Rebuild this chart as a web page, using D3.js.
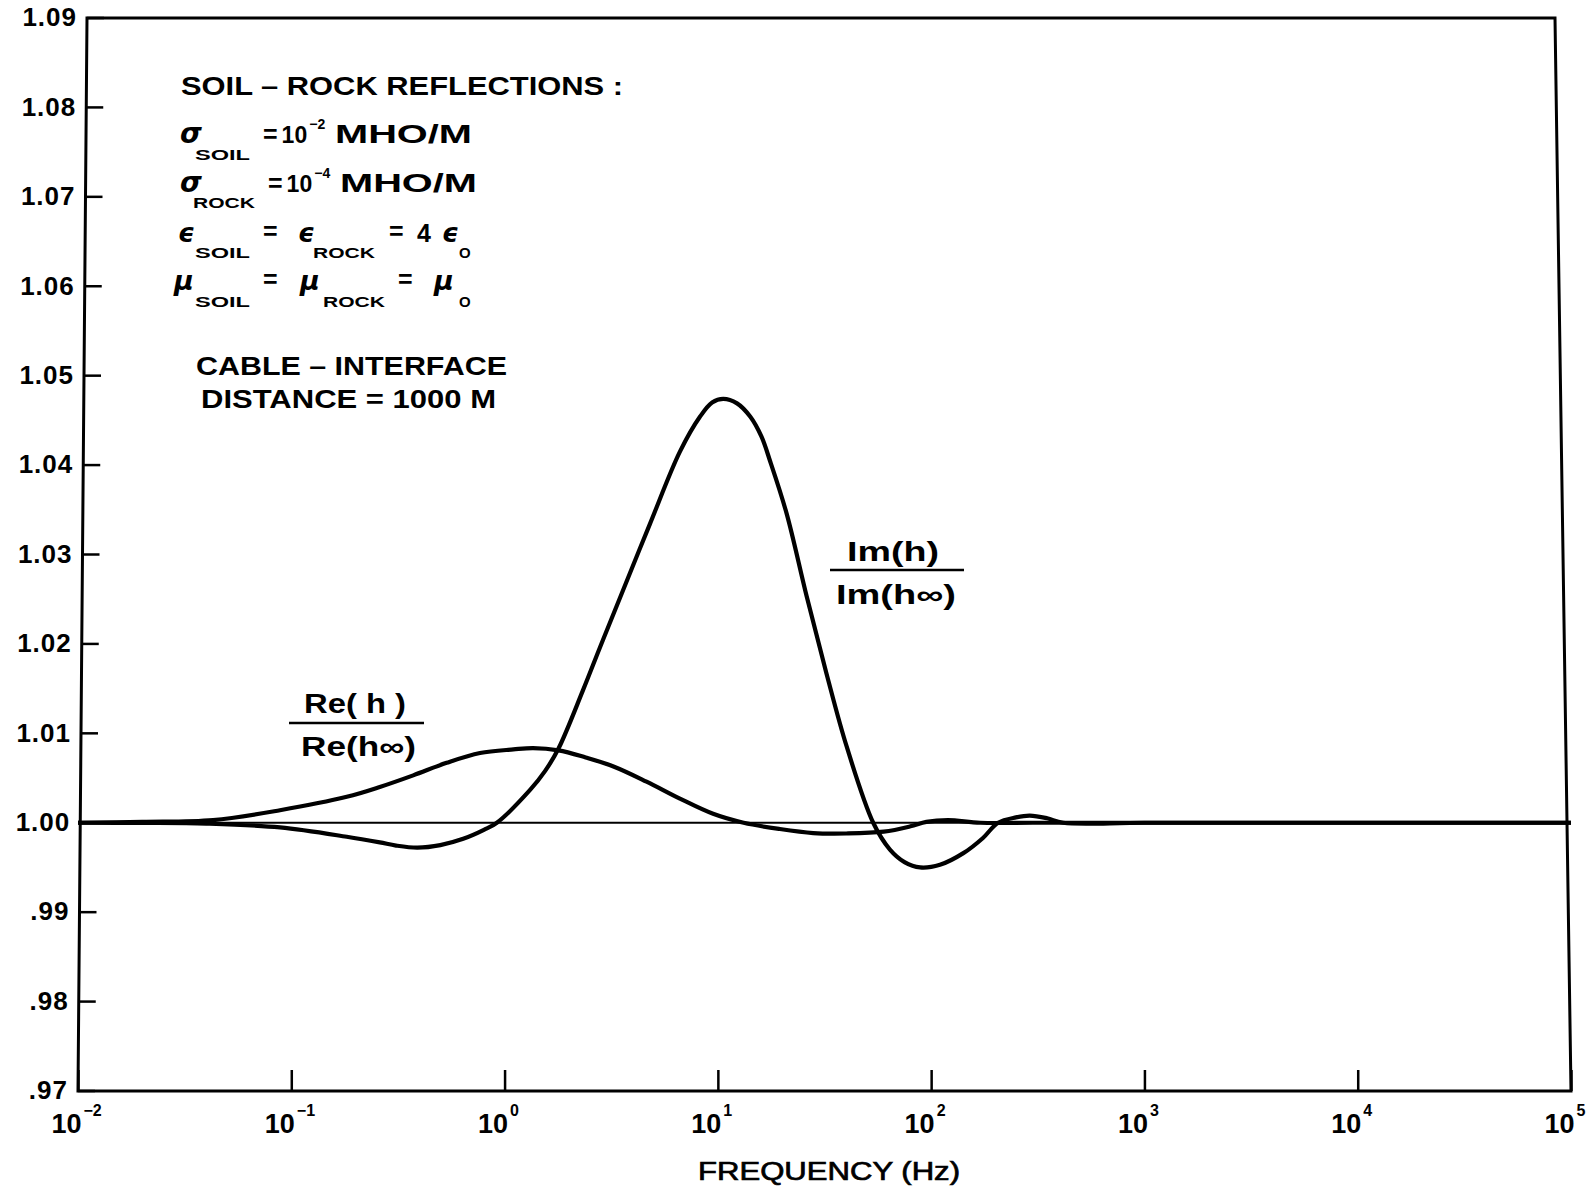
<!DOCTYPE html>
<html><head><meta charset="utf-8">
<script src="https://cdn.jsdelivr.net/npm/d3@7"></script>
<style>body{margin:0;background:#fff} svg{display:block;background:#fff}</style>
</head><body>
<svg id="chart" width="1591" height="1187"></svg>
<script>
// ---- data ----
const reFreq = [0.01,0.02,0.043,0.0885,0.182,0.26,0.373,0.535,0.767,1.1,1.36,1.79,2.4,3.24,4.63,6.64,9.5,13.2,19.5,28,40,60,80,95,120,170,300,1000,10000,100000];
const reVal  = [1.0000,1.0001,1.0003,1.0014,1.0029,1.0040,1.0053,1.0067,1.0078,1.0082,1.00835,1.0081,1.0073,1.0063,1.0046,1.0027,1.0010,1.0000,0.9993,0.99885,0.9988,0.9990,0.9996,1.0001,1.0003,1.0000,1.0000,1.0000,1.0000,1.0000];
const imFreq = [0.01,0.02,0.04,0.0885,0.182,0.26,0.31,0.39,0.5,0.64,0.8,0.92,1.32,1.55,1.79,2.33,2.8,3.47,4.8,6.64,8.24,9.4,10.6,12.3,14.2,16.0,17.6,21.0,26.1,32.3,40.2,53.5,64.1,75,88.8,110,141.6,175,206,250,290,350,416,1000,10000,100000];
const imVal  = [1.0000,0.99998,0.9999,0.99948,0.99843,0.9978,0.99745,0.99722,0.9975,0.9982,0.9992,1.0000,1.0037,1.0058,1.0083,1.0148,1.0196,1.0251,1.0334,1.0415,1.0454,1.0470,1.0474,1.0469,1.0454,1.0432,1.0404,1.0346,1.0253,1.0167,1.0085,1.0000,0.9970,0.9956,0.9950,0.9953,0.9966,0.9983,1.0000,1.0006,1.0008,1.0005,1.0000,1.0000,1.0000,1.0000];
const xTickExponents = [-2,-1,0,1,2,3,4,5];
const xTickLabels = ["\u22122","\u22121","0","1","2","3","4","5"];
const yTickValues = [0.97,0.98,0.99,1.00,1.01,1.02,1.03,1.04,1.05,1.06,1.07,1.08,1.09];
const yTickLabels = [".97",".98",".99","1.00","1.01","1.02","1.03","1.04","1.05","1.06","1.07","1.08","1.09"];

(function(){
// ---- scales ----
const x = d3.scaleLog().domain([1e-2,1e5]).range([78,1571]);
const y = d3.scaleLinear().domain([0.97,1.09]).range([1091,18]);
const yBot = y(0.97), yTop = y(1.09), H = yBot - yTop;
const leftEdge  = py => x(1e-2) + 9*(yBot-py)/H;
const rightEdge = py => x(1e5) - 16*(yBot-py)/H;

const svg = d3.select("#chart");
const BOLD = "'Liberation Sans',Arial,sans-serif";
const SANS = "'Liberation Sans',Arial,sans-serif";
const GREEK = "'DejaVu Sans',sans-serif";

// frame
svg.append("path")
  .attr("d", `M${leftEdge(yTop)},${yTop} L${rightEdge(yTop)},${yTop} L${rightEdge(yBot)},${yBot} L${leftEdge(yBot)},${yBot} Z`)
  .attr("fill","none").attr("stroke","#000").attr("stroke-width",3).attr("stroke-linejoin","miter");

// 1.00 reference line
svg.append("line")
  .attr("x1", leftEdge(y(1))).attr("x2", rightEdge(y(1)))
  .attr("y1", y(1)).attr("y2", y(1))
  .attr("stroke","#000").attr("stroke-width",2.2);

// y axis
const yAxis = svg.append("g")
  .call(d3.axisLeft(y).tickValues(yTickValues).tickSize(-17).tickPadding(10)
        .tickFormat((d,i)=>yTickLabels[i]));
yAxis.select(".domain").remove();
yAxis.selectAll(".tick").attr("transform", d => `translate(${leftEdge(y(d))},${y(d)})`);
yAxis.selectAll(".tick line").attr("stroke","#000").attr("stroke-width",2.5);
yAxis.selectAll(".tick text").attr("font-family",BOLD).attr("font-weight","bold")
  .attr("font-size",26).attr("fill","#000").attr("letter-spacing",1);

// x axis
const xAxis = svg.append("g").attr("transform",`translate(0,${yBot})`)
  .call(d3.axisBottom(x).tickValues(xTickExponents.map(e=>Math.pow(10,e))).tickSize(-21).tickFormat(""));
xAxis.select(".domain").remove();
xAxis.selectAll(".tick line").attr("stroke","#000").attr("stroke-width",2.5);
xAxis.selectAll(".tick").each(function(d,i){
  const g = d3.select(this);
  g.append("text").attr("x",3).attr("y",42).attr("text-anchor","end")
    .attr("font-family",BOLD).attr("font-weight","bold").attr("font-size",27).attr("fill","#000")
    .text("10");
  g.append("text").attr("x",5).attr("y",25).attr("text-anchor","start")
    .attr("font-family",BOLD).attr("font-weight","bold").attr("font-size",16).attr("fill","#000")
    .text(xTickLabels[i]);
});

// axis title
svg.append("text").attr("x",698).attr("y",1180)
  .attr("font-family",SANS).attr("font-size",25).attr("fill","#000")
  .attr("stroke","#000").attr("stroke-width",0.7)
  .attr("textLength",262).attr("lengthAdjust","spacingAndGlyphs")
  .text("FREQUENCY (Hz)");

// curves
const line = d3.line().x(d=>x(d[0])).y(d=>y(d[1])).curve(d3.curveCatmullRom.alpha(0.5));
const reData = reFreq.map((f,i)=>[f,reVal[i]]);
const imData = imFreq.map((f,i)=>[f,imVal[i]]);
svg.append("path").datum(reData).attr("d",line).attr("fill","none").attr("stroke","#000").attr("stroke-width",4.2).attr("stroke-linejoin","round");
svg.append("path").datum(imData).attr("d",line).attr("fill","none").attr("stroke","#000").attr("stroke-width",4.2).attr("stroke-linejoin","round");

// ---- annotation ----
function txt(s, px, py, opts={}){
  const t = svg.append("text").attr("x",px).attr("y",py)
    .attr("font-family",opts.family||SANS).attr("font-size",opts.size||25)
    .attr("font-weight",opts.weight||"bold").attr("fill","#000");
  if(opts.italic) t.attr("font-style","italic");
  if(opts.len) t.attr("textLength",opts.len).attr("lengthAdjust","spacingAndGlyphs");
  t.text(s);
  return t;
}
function power(px, py, expo){
  const t = svg.append("text").attr("x",px).attr("y",py)
    .attr("font-family",SANS).attr("font-size",25).attr("font-weight","bold").attr("fill","#000");
  t.append("tspan").text("=");
  t.append("tspan").attr("dx",4).attr("font-size",23).text("10");
  t.append("tspan").attr("dx",2).attr("dy",-14).attr("font-size",14).text(expo);
  return t;
}
txt("SOIL \u2013 ROCK  REFLECTIONS :",181,95,{len:442,size:25});
// sigma soil
txt("\u03C3",180,143,{family:GREEK,italic:true,size:28});
txt("SOIL",195,160,{size:14,len:55});
power(263,143,"\u22122");
txt("MHO/M",335,143,{size:25,len:137});
// sigma rock
txt("\u03C3",180,192,{family:GREEK,italic:true,size:28});
txt("ROCK",193,208,{size:14,len:62});
power(268,192,"\u22124");
txt("MHO/M",340,192,{size:25,len:137});
// epsilon
txt("\u03F5",178,242,{family:GREEK,italic:true,size:26});
txt("SOIL",195,258,{size:14,len:55});
txt("=",263,240,{size:25});
txt("\u03F5",298,242,{family:GREEK,italic:true,size:26});
txt("ROCK",313,258,{size:14,len:62});
txt("=",389,240,{size:25});
txt("4",417,242,{size:25});
txt("\u03F5",442,242,{family:GREEK,italic:true,size:26});
txt("O",459,258,{size:15});
// mu
txt("\u03BC",174,290,{family:GREEK,italic:true,size:27});
txt("SOIL",195,307,{size:14,len:55});
txt("=",263,288,{size:25});
txt("\u03BC",300,290,{family:GREEK,italic:true,size:27});
txt("ROCK",323,307,{size:14,len:62});
txt("=",398,288,{size:25});
txt("\u03BC",434,290,{family:GREEK,italic:true,size:27});
txt("O",459,307,{size:15});
// distance
txt("CABLE \u2013 INTERFACE",196,375,{size:26,len:311});
txt("DISTANCE = 1000 M",201,408,{size:26,len:295});

// curve labels
txt("Re( h )",304,713,{family:BOLD,size:27,len:102});
svg.append("line").attr("x1",289).attr("x2",424).attr("y1",723).attr("y2",723).attr("stroke","#000").attr("stroke-width",2.5);
txt("Re(h\u221E)",301,756,{family:BOLD,size:27,len:115});
txt("Im(h)",847,561,{family:BOLD,size:27,len:92});
svg.append("line").attr("x1",830).attr("x2",964).attr("y1",570).attr("y2",570).attr("stroke","#000").attr("stroke-width",2.5);
txt("Im(h\u221E)",836,604,{family:BOLD,size:27,len:120});
})();
</script>
</body></html>
